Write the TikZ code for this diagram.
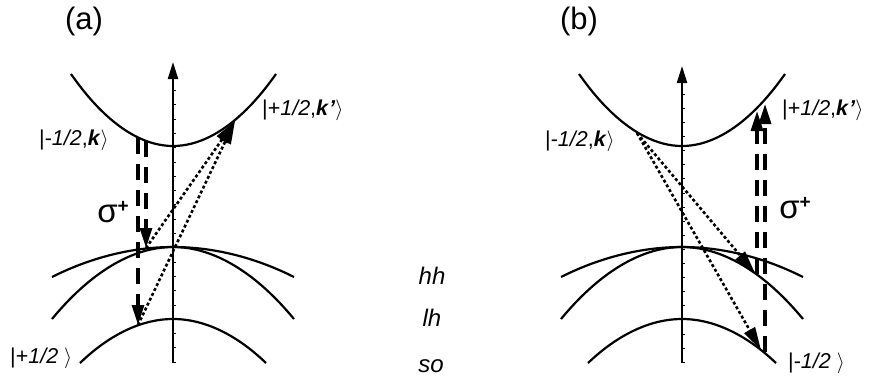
\documentclass[tikz,border=0pt]{standalone}
\usepackage{fontspec}
\setmainfont{Liberation Sans}
\usetikzlibrary{arrows.meta}
\tikzset{
  band/.style={line width=2.2pt},
  axisline/.style={line width=2.2pt,-{Triangle[length=17pt,width=10pt]}},
  tick/.style={line width=0.6pt},
  dasharrow/.style={line width=3.2pt,dash pattern=on 16pt off 10pt,-{Triangle[length=20pt,width=12pt]}},
  dotarrow/.style={line width=2.6pt,dash pattern=on 3pt off 2.4pt,-{Triangle[length=23pt,width=12pt]}},
  lbl/.style={inner sep=0pt,font=\fontsize{21.5}{23}\selectfont},
  bandlbl/.style={inner sep=0pt,font=\fontsize{24}{26}\selectfont\itshape},
  panel/.style={inner sep=0pt,font=\fontsize{31}{33}\selectfont},
  sig/.style={inner sep=0pt,font=\fontsize{33}{35}\selectfont}
}
\newcommand{\kb}{\textbf{\textit{k}}}
\begin{document}
\begin{tikzpicture}[x=1pt,y=-1pt]
\useasboundingbox (0,0) rectangle (870,381);

% ---------- panel (a) ----------
\node[panel] (pa) at (84,21) {(a)};
\draw[band] (71,74) parabola bend (173,146) (276,74);
\draw[band] (52,277) parabola bend (173,247) (294,277);
\draw[band] (52,319) parabola bend (173,247) (294,319);
\draw[band] (80,363) parabola bend (173,319) (266,363);
\coordinate (aaxb) at (173,363);
\coordinate (aaxt) at (173,62);
\draw[axisline] (aaxb) -- (aaxt);
\foreach \k in {0,...,20} \draw[tick] (173,76+14.3*\k) -- ++(2.5,0);

\coordinate (acb1) at (146,141);
\coordinate (acb2) at (138,138);
\coordinate (ahh) at (146,248);
\coordinate (aso) at (138,325);
\coordinate (acbk) at (235,121);
\draw[dasharrow] (acb1) -- (ahh);
\draw[dasharrow] (acb2) -- (aso);
\draw[dotarrow] (ahh) -- (acbk);
\draw[dotarrow] (aso) -- (acbk);

\node[lbl,anchor=west] (al1) at (39,140) {|-\textit{1/2},\kb$\rangle$};
\node[lbl,anchor=west] (al2) at (262,110) {|+\textit{1/2},\kb\textbf{\textit{'}}$\rangle$};
\node[lbl,anchor=west] (al3) at (10,358) {|+\textit{1/2} $\rangle$};
\node[sig] (asig) at (113,212) {σ\raisebox{10pt}{\fontsize{19}{19}\selectfont\textbf{+}}};

% ---------- middle labels ----------
\node[bandlbl] (lhh) at (432,276) {hh};
\node[bandlbl] (llh) at (432,318) {lh};
\node[bandlbl] (lso) at (431,366) {so};

% ---------- panel (b) ----------
\node[panel] (pb) at (579,21) {(b)};
\draw[band] (579,74) parabola bend (682,146) (785,74);
\draw[band] (561,277) parabola bend (682,247) (803,277);
\draw[band] (561,319) parabola bend (682,247) (803,319);
\draw[band] (588,363) parabola bend (682,319) (776,363);
\coordinate (baxb) at (682,363);
\coordinate (baxt) at (682,66);
\draw[axisline] (baxb) -- (baxt);
\foreach \k in {0,...,20} \draw[tick] (682,80+14.1*\k) -- ++(2.5,0);

\coordinate (bcbk) at (637,133);
\coordinate (blh) at (755,273);
\coordinate (bso) at (761,350);
\coordinate (blh2) at (757,274);
\coordinate (bso2) at (765,352);
\coordinate (bcb1) at (757,111);
\coordinate (bcb2) at (765,104);
\draw[dotarrow] (bcbk) -- (blh);
\draw[dotarrow] (bcbk) -- (bso);
\draw[dasharrow] (blh2) -- (bcb1);
\draw[dasharrow] (bso2) -- (bcb2);

\node[lbl,anchor=west] (bl1) at (545,141) {|-\textit{1/2},\kb$\rangle$};
\node[lbl,anchor=west] (bl2) at (782,110) {|+\textit{1/2},\kb\textbf{\textit{'}}$\rangle$};
\node[lbl,anchor=west] (bl3) at (788,363) {|-\textit{1/2} $\rangle$};
\node[sig] (bsig) at (795,208) {σ\raisebox{10pt}{\fontsize{19}{19}\selectfont\textbf{+}}};
\end{tikzpicture}
\end{document}
